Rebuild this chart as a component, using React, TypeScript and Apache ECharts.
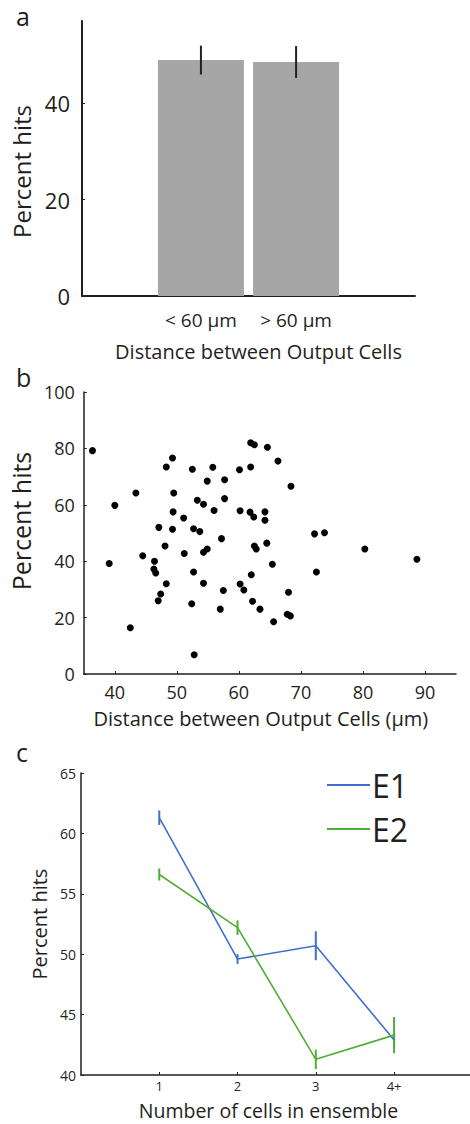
import React, { useEffect, useRef } from "react";
import * as echarts from "echarts";

// Panel a: bar chart
const barCategories = ["< 60 μm", "> 60 μm"];
const barPositions = [1, 2];
const barValues = [48.9, 48.5];
const barErrors = [3.0, 3.3];
const barYTicks = [0, 20, 40];

// Panel b: scatter (distance µm, percent hits)
const scatterX = [
  36.4, 49.3, 48.3, 52.5, 55.8, 54.9, 43.4, 49.5, 40.0, 53.3, 54.3, 56.0, 49.4, 51.1, 47.1, 49.3, 52.7, 53.7,
  61.9, 62.5, 64.6, 66.3, 60.1, 61.9, 68.4, 57.7, 57.7, 60.2, 61.8, 62.4, 64.2, 64.2, 72.2, 73.8,
  48.1, 44.5, 39.1, 46.4, 46.3, 46.6, 51.2, 52.7, 54.3, 54.9, 48.3, 54.3, 47.4, 47.0, 52.4, 42.5, 52.8,
  57.2, 62.5, 62.8, 64.5, 65.4, 62.0, 57.5, 60.2, 60.8, 68.0, 57.0, 62.2, 63.4, 65.6, 67.8, 68.3, 72.5, 80.3, 88.7,
];
const scatterY = [
  79.2, 76.6, 73.4, 72.6, 73.3, 68.4, 64.2, 64.2, 59.8, 61.6, 60.2, 58.0, 57.5, 55.3, 52.0, 51.3, 51.5, 50.5,
  82.0, 81.3, 80.4, 75.5, 72.4, 73.4, 66.6, 68.9, 62.2, 57.9, 57.4, 55.7, 57.5, 54.5, 49.7, 50.1,
  45.4, 41.9, 39.2, 40.0, 37.2, 35.8, 42.7, 36.2, 43.2, 44.3, 32.0, 32.2, 28.4, 26.0, 24.9, 16.4, 6.8,
  48.0, 45.4, 44.3, 46.4, 38.9, 35.2, 29.6, 31.9, 29.8, 29.0, 23.0, 25.8, 23.0, 18.5, 21.2, 20.6, 36.2, 44.3, 40.7,
];
const scatterXTicks = [40, 50, 60, 70, 80, 90];

// Panel c: lines with error bars
const ensembleLabels = ["1", "2", "3", "4+"];
const ensemblePositions = [1, 2, 3, 4];
const e1Values = [61.3, 49.6, 50.7, 42.9];
const e1Errors = [0.6, 0.4, 1.2, 0.5];
const e2Values = [56.6, 52.2, 41.3, 43.3];
const e2Errors = [0.5, 0.6, 0.8, 1.5];

const FONT = "'Open Sans', 'Noto Sans', sans-serif";
const INK = "#231f20";
const BLUE = "#4170cc";
const GREEN = "#4fae34";

function errRender(color: string, width: number) {
  return (params: any, api: any) => {
    const x = api.value(0);
    const y = api.value(1);
    const e = api.value(2);
    const p1 = api.coord([x, y - e]);
    const p2 = api.coord([x, y + e]);
    return {
      type: "line",
      shape: { x1: p1[0], y1: p1[1], x2: p2[0], y2: p2[1] },
      style: { stroke: color, lineWidth: width },
    };
  };
}

export default function App() {
  const ref = useRef<HTMLDivElement>(null);
  useEffect(() => {
    if (!ref.current) return;
    const chart = echarts.init(ref.current, undefined, { renderer: "svg" });
    const axisLineStyle = (w: number) => ({ show: true, onZero: false, lineStyle: { color: INK, width: w } });
    const option: any = {
      animation: false,
      textStyle: { fontFamily: FONT, color: INK },
      grid: [
        { left: 82, top: 21, width: 333, height: 275 },
        { left: 83, top: 392, width: 373, height: 282 },
        { left: 81, top: 773, width: 389, height: 302 },
      ],
      xAxis: [
        {
          gridIndex: 0,
          type: "value",
          min: -0.25,
          max: 3.25,
          axisLine: axisLineStyle(2),
          axisTick: { show: false },
          splitLine: { show: false },
          axisLabel: {
            customValues: barPositions,
            formatter: (v: number) => barCategories[barPositions.indexOf(v)] ?? "",
            fontSize: 19,
            color: INK,
            fontFamily: FONT,
            margin: 14,
          },
          name: "Distance between Output Cells",
          nameLocation: "middle",
          nameGap: 45,
          nameTextStyle: { fontSize: 20, color: INK, fontFamily: FONT, padding: [0, 0, 0, 20] },
        },
        {
          gridIndex: 1,
          type: "value",
          min: 35,
          max: 95,
          axisLine: axisLineStyle(1.5),
          axisTick: { show: true, inside: true, length: 3, customValues: scatterXTicks, lineStyle: { color: INK } },
          splitLine: { show: false },
          axisLabel: { customValues: scatterXTicks, fontSize: 18, color: INK, fontFamily: FONT, margin: 9 },
          name: "Distance between Output Cells (μm)",
          nameLocation: "middle",
          nameGap: 34,
          nameTextStyle: { fontSize: 20, color: INK, fontFamily: FONT, padding: [0, 18, 0, 0] },
        },
        {
          gridIndex: 2,
          type: "value",
          min: 0,
          max: 4.97,
          axisLine: axisLineStyle(1.5),
          axisTick: { show: true, inside: true, length: 3, customValues: ensemblePositions, lineStyle: { color: INK } },
          splitLine: { show: false },
          axisLabel: {
            customValues: ensemblePositions,
            formatter: (v: number) => ensembleLabels[ensemblePositions.indexOf(v)] ?? "",
            fontSize: 13,
            color: INK,
            fontFamily: FONT,
            margin: 4,
          },
          name: "Number of cells in ensemble",
          nameLocation: "middle",
          nameGap: 25,
          nameTextStyle: { fontSize: 19.5, color: INK, fontFamily: FONT, padding: [0, 14, 0, 0] },
        },
      ],
      yAxis: [
        {
          gridIndex: 0,
          type: "value",
          min: 0,
          max: 57,
          axisLine: axisLineStyle(2),
          axisTick: { show: true, inside: true, length: 3, customValues: barYTicks, lineStyle: { color: INK } },
          splitLine: { show: false },
          axisLabel: { customValues: barYTicks, fontSize: 22, color: INK, fontFamily: FONT, margin: 12 },
          name: "Percent hits",
          nameLocation: "middle",
          nameGap: 47,
          nameTextStyle: { fontSize: 24, color: INK, fontFamily: FONT, padding: [0, 26, 0, 0] },
        },
        {
          gridIndex: 1,
          type: "value",
          min: 0,
          max: 100,
          interval: 20,
          axisLine: axisLineStyle(1.5),
          axisTick: { show: true, inside: true, length: 3, lineStyle: { color: INK } },
          splitLine: { show: false },
          axisLabel: { fontSize: 18, color: INK, fontFamily: FONT, margin: 9 },
          name: "Percent hits",
          nameLocation: "middle",
          nameGap: 50,
          nameTextStyle: { fontSize: 25, color: INK, fontFamily: FONT, padding: [0, 0, 0, 24] },
        },
        {
          gridIndex: 2,
          type: "value",
          min: 40,
          max: 65,
          interval: 5,
          axisLine: axisLineStyle(1.5),
          axisTick: { show: true, inside: true, length: 3, lineStyle: { color: INK } },
          splitLine: { show: false },
          axisLabel: { fontSize: 14, color: INK, fontFamily: FONT, margin: 5 },
          name: "Percent hits",
          nameLocation: "middle",
          nameGap: 31,
          nameTextStyle: { fontSize: 20, color: INK, fontFamily: FONT },
        },
      ],
      legend: {
        data: ["E1", "E2"],
        orient: "vertical",
        left: 322,
        top: 764,
        icon: "rect",
        itemWidth: 43,
        itemHeight: 2,
        itemGap: 12,
        textStyle: { fontSize: 32, color: INK, fontFamily: FONT, padding: [0, 0, 0, -3] },
      },
      series: [
        {
          type: "bar",
          xAxisIndex: 0,
          yAxisIndex: 0,
          barWidth: 86,
          itemStyle: { color: "#a6a6a6" },
          data: barPositions.map((p, i) => [p, barValues[i]]),
        },
        {
          type: "custom",
          xAxisIndex: 0,
          yAxisIndex: 0,
          z: 5,
          renderItem: errRender("#222", 2),
          encode: { x: 0, y: 1 },
          data: barPositions.map((p, i) => [p, barValues[i], barErrors[i]]),
        },
        {
          type: "scatter",
          xAxisIndex: 1,
          yAxisIndex: 1,
          symbolSize: 7,
          itemStyle: { color: "#000", opacity: 1 },
          data: scatterX.map((x, i) => [x, scatterY[i]]),
        },
        {
          name: "E1",
          type: "line",
          xAxisIndex: 2,
          yAxisIndex: 2,
          symbol: "none",
          lineStyle: { color: BLUE, width: 1.6 },
          itemStyle: { color: BLUE },
          data: ensemblePositions.map((p, i) => [p, e1Values[i]]),
        },
        {
          type: "custom",
          xAxisIndex: 2,
          yAxisIndex: 2,
          renderItem: errRender(BLUE, 2),
          encode: { x: 0, y: 1 },
          data: ensemblePositions.map((p, i) => [p, e1Values[i], e1Errors[i]]),
        },
        {
          name: "E2",
          type: "line",
          xAxisIndex: 2,
          yAxisIndex: 2,
          symbol: "none",
          lineStyle: { color: GREEN, width: 1.6 },
          itemStyle: { color: GREEN },
          data: ensemblePositions.map((p, i) => [p, e2Values[i]]),
        },
        {
          type: "custom",
          xAxisIndex: 2,
          yAxisIndex: 2,
          renderItem: errRender(GREEN, 2),
          encode: { x: 0, y: 1 },
          data: ensemblePositions.map((p, i) => [p, e2Values[i], e2Errors[i]]),
        },
      ],
      graphic: [
        { type: "text", left: 16, top: 3, style: { text: "a", fontSize: 25, fill: INK, fontFamily: FONT } },
        { type: "text", left: 16, top: 364, style: { text: "b", fontSize: 25, fill: INK, fontFamily: FONT } },
        { type: "text", left: 16, top: 739, style: { text: "c", fontSize: 25, fill: INK, fontFamily: FONT } },
      ],
    };
    chart.setOption(option);
    return () => chart.dispose();
  }, []);
  return (
    <div
      ref={ref}
      style={{ position: "absolute", left: 0, top: 0, width: 470, height: 1124, background: "#fff" }}
    />
  );
}
